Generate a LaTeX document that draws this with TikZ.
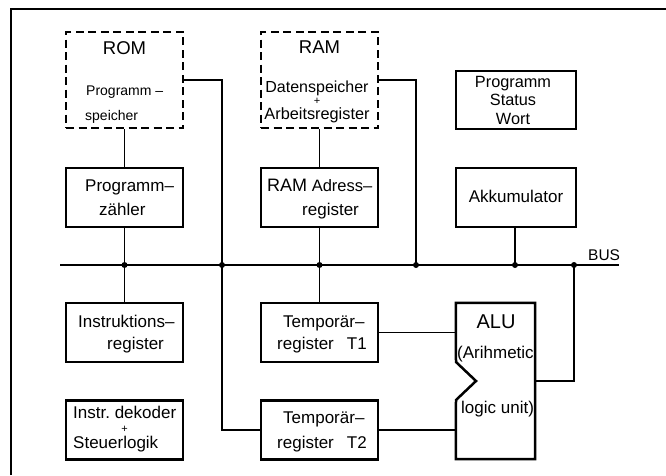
\documentclass[tikz,border=0pt]{standalone}
\usepackage{fontspec}
\setmainfont{Liberation Sans}
\begin{document}
\begin{tikzpicture}[x=1pt,y=-1pt,
  box/.style={draw, line width=2.5pt, minimum width=117pt, minimum height=59pt, inner sep=0pt},
  dbox/.style={box, dash pattern=on 8pt off 4.5pt, minimum height=96pt},
  nobox/.style={minimum width=79pt, minimum height=156pt, inner sep=0pt},
  wire/.style={line width=1.2pt},
  frame/.style={line width=1.5pt},
  busline/.style={line width=1.5pt},
  dot/.style={circle, fill, inner sep=0pt, minimum size=6pt},
  txt/.style={inner sep=0pt, font=\fontsize{17}{19}\selectfont},
  mtxt/.style={inner sep=0pt, font=\fontsize{16.3}{18}\selectfont},
  stxt/.style={inner sep=0pt, font=\fontsize{14}{16}\selectfont},
  ttl/.style={inner sep=0pt, font=\fontsize{18.5}{20}\selectfont},
  plus/.style={inner sep=0pt, font=\fontsize{11}{12}\selectfont}]
\useasboundingbox (0,0) rectangle (666,475);
% frame
\coordinate (f1) at (11,475);
\coordinate (f2) at (11,9);
\coordinate (f3) at (666,9);
\draw[frame] (f1) -- (f2) -- (f3);

% boxes
\node[dbox] (rom) at (124.5,80) {};
\node[dbox] (ram) at (319.5,80) {};
\node[box] (pz) at (124.5,197.5) {};
\node[box] (rar) at (319.5,197.5) {};
\node[box, minimum width=120pt, minimum height=58pt] (psw) at (516,100) {};
\node[box, minimum width=120pt] (akk) at (516,197.5) {};
\node[box] (ir) at (124.5,332.5) {};
\node[box] (dek) at (124.5,430) {};
\node[box] (t1) at (319.5,332.5) {};
\node[box] (t2) at (319.5,430) {};
\node[nobox] (alu) at (495.5,381) {};
\draw[line width=2.5pt, line join=miter] (alu.north west) -- (alu.north east) -- (alu.south east) -- (alu.south west) -- (456,400) -- (476,381) -- (456,362) -- cycle;

% bus
\coordinate (busL) at (60,265);
\coordinate (busR) at (619,265);
\draw[busline] (busL) -- (busR);
\node[dot] (j1) at (124.5,265) {};
\node[dot] (j2) at (222,265) {};
\node[dot] (j3) at (319.5,265) {};
\node[dot] (j4) at (416,265) {};
\node[dot] (j5) at (515,265) {};
\node[dot] (j6) at (574,265) {};

% wires
\draw[wire] (rom.south) -- (pz.north);
\draw[wire] (pz.south) -- (ir.north);
\draw[wire] (ram.south) -- (rar.north);
\draw[wire] (rar.south) -- (t1.north);
\draw[wire] (akk.south -| j5) -- (j5.center);
\draw[wire] (rom.east) -- (222,80) -- (222,430) -- (t2.west);
\draw[wire] (ram.east) -- (416,80) -- (j4.center);
\draw[wire] (t1.east) -- (alu.west |- t1.east);
\draw[wire] (t2.east) -- (alu.west |- t2.east);
\draw[wire] (alu.east) -- (574,381) -- (j6.center);

% texts
\node[ttl, anchor=base] (tRom) at (124.5,54) {ROM};
\node[stxt, anchor=base west] (tRom1) at (86,95) {Programm –};
\node[stxt, anchor=base west] (tRom2) at (85,120) {speicher};

\node[ttl, anchor=base] (tRam) at (319.5,53) {RAM};
\node[inner sep=0pt, font=\fontsize{16}{18}\selectfont, anchor=base] (tRam1) at (317,92) {Datenspeicher};
\node[plus, anchor=base] (tRam2) at (317,104) {+};
\node[mtxt, anchor=base] (tRam3) at (317,119.5) {Arbeitsregister};

\node[txt, anchor=base west] (tPz1) at (85,191) {Programm–};
\node[txt, anchor=base west] (tPz2) at (99,215) {zähler};

\node[inner sep=0pt, font=\fontsize{16.5}{18}\selectfont, anchor=base west] (tRar1) at (267,191) {{\fontsize{18}{20}\selectfont RAM} Adress–};
\node[txt, anchor=base west] (tRar2) at (302,215) {register};

\node[mtxt, anchor=base] (tPsw1) at (513,87.5) {Programm};
\node[mtxt, anchor=base] (tPsw2) at (513,105.5) {Status};
\node[mtxt, anchor=base] (tPsw3) at (513,124) {Wort};

\node[txt, anchor=base] (tAkk) at (516,202) {Akkumulator};

\node[txt, anchor=base west] (tIr1) at (78,327) {Instruktions–};
\node[txt, anchor=base west] (tIr2) at (107,349) {register};

\node[txt, anchor=base west] (tDek1) at (73,418.5) {Instr.\ dekoder};
\node[plus, anchor=base] (tDek2) at (124.5,432.5) {+};
\node[txt, anchor=base west] (tDek3) at (73,448.5) {Steuerlogik};

\node[txt, anchor=base west] (tT1a) at (283,327) {Temporär–};
\node[txt, anchor=base west] (tT1b) at (277,349) {register\hspace{13pt}T1};
\node[txt, anchor=base west] (tT2a) at (283,423) {Temporär–};
\node[txt, anchor=base west] (tT2b) at (277,448) {register\hspace{13pt}T2};

\node[inner sep=0pt, font=\fontsize{20}{22}\selectfont, anchor=base] (tAlu) at (496,328) {ALU};
\node[txt, anchor=base west] (tAlu1) at (457,358) {(Arihmetic};
\node[txt, anchor=base west] (tAlu2) at (461,413) {logic unit)};

\node[inner sep=0pt, font=\fontsize{15.5}{17}\selectfont, anchor=base west] (tBus) at (588,260) {BUS};
\end{tikzpicture}
\end{document}
